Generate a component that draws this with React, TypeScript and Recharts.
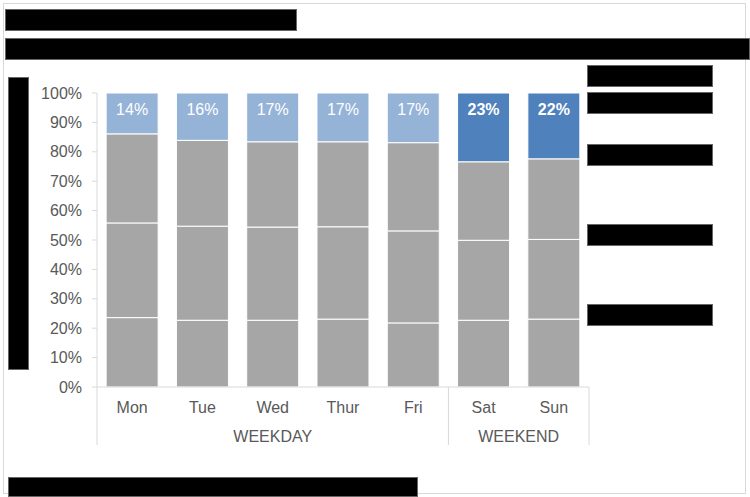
import { Bar, BarChart, Cell, LabelList, XAxis, YAxis } from 'recharts';

const days = ['Mon', 'Tue', 'Wed', 'Thur', 'Fri', 'Sat', 'Sun'];
const groups = ['WEEKDAY', 'WEEKDAY', 'WEEKDAY', 'WEEKDAY', 'WEEKDAY', 'WEEKEND', 'WEEKEND'];

// shares per day, bottom to top
const seg1 = [0.236, 0.227, 0.227, 0.231, 0.218, 0.227, 0.231];
const seg2 = [0.322, 0.32, 0.317, 0.314, 0.313, 0.272, 0.271];
const seg3 = [0.303, 0.292, 0.29, 0.289, 0.3, 0.267, 0.274];
const seg4 = [0.139, 0.161, 0.166, 0.166, 0.169, 0.234, 0.224];

const yTicks = [0, 0.1, 0.2, 0.3, 0.4, 0.5, 0.6, 0.7, 0.8, 0.9, 1];

const data = days.map((day, i) => ({
  day,
  group: groups[i],
  s1: seg1[i],
  s2: seg2[i],
  s3: seg3[i],
  s4: seg4[i],
}));

const FONT = '"Liberation Sans", Arial, sans-serif';
const AXIS_GRAY = '#d9d9d9';
const TEXT_GRAY = '#595959';
const BAR_GRAY = '#a6a6a6';
const LIGHT_BLUE = '#95b3d7';
const DARK_BLUE = '#4f81bd';

const CHART_W = 750;
const CHART_H = 497;
const MARGIN = { top: 93, right: 161, bottom: 50, left: 7 };
const Y_AXIS_W = 90;
const PLOT_W = CHART_W - MARGIN.left - MARGIN.right - Y_AXIS_W;
const BAND = PLOT_W / days.length;

function DayTick(props: any) {
  const { x, y, payload, index } = props;
  const group = groups[index];
  const isFirst = index === 0 || groups[index - 1] !== group;
  const isLast = index === groups.length - 1;
  const count = groups.filter((g) => g === group).length;
  const left = x - BAND / 2;
  return (
    <g>
      <text
        x={x}
        y={y + 26}
        textAnchor='middle'
        fill={TEXT_GRAY}
        fontSize={16}
        fontFamily={FONT}
      >
        {payload.value}
      </text>
      {isFirst && (
        <>
          <line x1={left} x2={left} y1={y} y2={y + 58} stroke={AXIS_GRAY} />
          <text
            x={left + (count * BAND) / 2}
            y={y + 55}
            textAnchor='middle'
            fill={TEXT_GRAY}
            fontSize={16}
            fontFamily={FONT}
          >
            {group}
          </text>
        </>
      )}
      {isLast && (
        <line
          x1={x + BAND / 2}
          x2={x + BAND / 2}
          y1={y}
          y2={y + 58}
          stroke={AXIS_GRAY}
        />
      )}
    </g>
  );
}

function TopLabel(props: any) {
  const { x, y, width, value, index } = props;
  const weekend = groups[index] === 'WEEKEND';
  return (
    <text
      x={x + width / 2}
      y={y + 22}
      textAnchor='middle'
      fill='#ffffff'
      fontSize={16}
      fontWeight={weekend ? 'bold' : 'normal'}
      fontFamily={FONT}
    >
      {`${Math.round(value * 100)}%`}
    </text>
  );
}

const box = (left: number, top: number, width: number, height: number) => (
  <div
    key={`${left}-${top}`}
    style={{
      position: 'absolute',
      left,
      top,
      width,
      height,
      background: '#000',
      boxSizing: 'border-box',
      border: '1px solid #666',
    }}
  />
);

export default function App() {
  return (
    <div
      style={{
        position: 'absolute',
        left: 0,
        top: 0,
        width: CHART_W,
        height: CHART_H,
        background: '#fff',
        overflow: 'hidden',
      }}
    >
      <div
        style={{
          position: 'absolute',
          left: 3,
          top: 3,
          width: 743,
          height: 491,
          border: `1px solid ${AXIS_GRAY}`,
          boxSizing: 'border-box',
        }}
      />
      <BarChart
        width={CHART_W}
        height={CHART_H}
        data={data}
        margin={MARGIN}
        barCategoryGap='13%'
        style={{ position: 'absolute', left: 0, top: 0 }}
      >
        <XAxis
          dataKey='day'
          tickLine={false}
          tickSize={0}
          tickMargin={0}
          axisLine={{ stroke: AXIS_GRAY }}
          tick={<DayTick />}
          height={60}
          interval={0}
        />
        <YAxis
          width={Y_AXIS_W}
          domain={[0, 1]}
          ticks={yTicks}
          interval={0}
          tickFormatter={(v: number) => `${Math.round(v * 100)}%`}
          axisLine={{ stroke: AXIS_GRAY }}
          tickLine={{ stroke: AXIS_GRAY }}
          tickSize={5}
          tickMargin={10}
          tick={{ fill: TEXT_GRAY, fontSize: 16, fontFamily: FONT }}
        />
        <Bar dataKey='s1' stackId='a' fill={BAR_GRAY} stroke='#ffffff' strokeWidth={1} isAnimationActive={false} />
        <Bar dataKey='s2' stackId='a' fill={BAR_GRAY} stroke='#ffffff' strokeWidth={1} isAnimationActive={false} />
        <Bar dataKey='s3' stackId='a' fill={BAR_GRAY} stroke='#ffffff' strokeWidth={1} isAnimationActive={false} />
        <Bar dataKey='s4' stackId='a' stroke='#ffffff' strokeWidth={1} isAnimationActive={false}>
          {data.map((d, i) => (
            <Cell key={`top-${i}`} fill={d.group === 'WEEKEND' ? DARK_BLUE : LIGHT_BLUE} />
          ))}
          <LabelList dataKey='s4' content={<TopLabel />} />
        </Bar>
      </BarChart>
      {box(5, 9, 292, 22)}
      {box(5, 38, 745, 22)}
      {box(8, 77, 21, 293)}
      {box(587, 65, 126, 22)}
      {box(587, 92, 126, 22)}
      {box(587, 144, 126, 22)}
      {box(587, 224, 126, 22)}
      {box(587, 304, 126, 22)}
      {box(8, 477, 410, 20)}
    </div>
  );
}
